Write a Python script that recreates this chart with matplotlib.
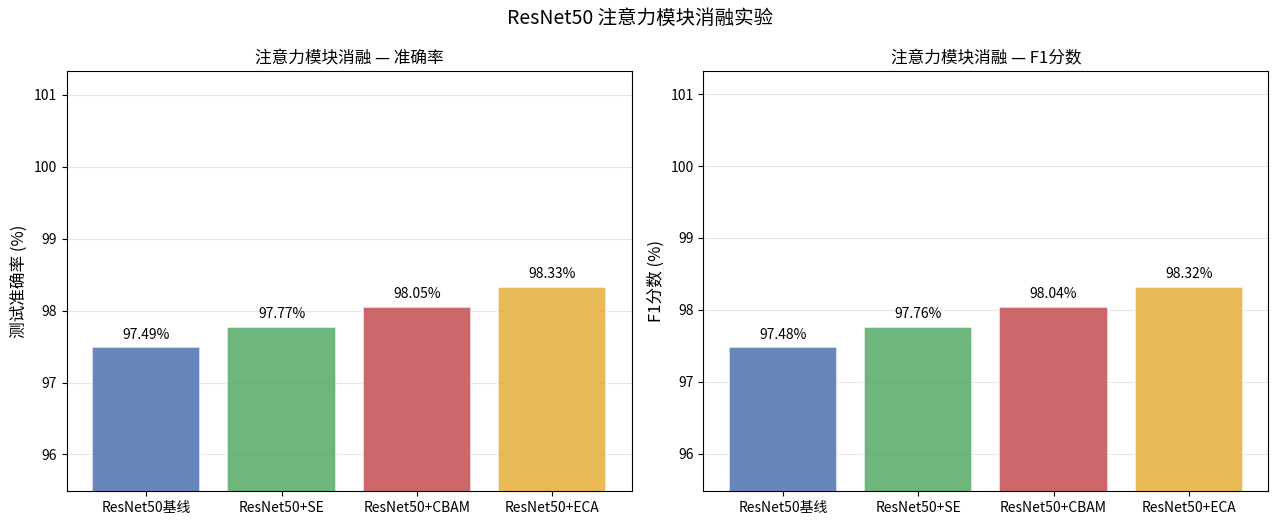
import matplotlib
matplotlib.use("Agg")
import matplotlib.pyplot as plt
import numpy as np

plt.rcParams['font.family'] = ['Noto Sans CJK SC', 'DejaVu Sans']
plt.rcParams['axes.unicode_minus'] = False

models = ["ResNet50基线", "ResNet50+SE", "ResNet50+CBAM", "ResNet50+ECA"]
accuracy = [97.49, 97.77, 98.05, 98.33]
f1_scores = [97.48, 97.76, 98.04, 98.32]
colors = ["#4C72B0", "#55A868", "#C44E52", "#E5AE38"]

fig, axes = plt.subplots(1, 2, figsize=(12.8, 5.23), dpi=100)
panels = [
    (accuracy, "注意力模块消融 — 准确率", "测试准确率 (%)"),
    (f1_scores, "注意力模块消融 — F1分数", "F1分数 (%)"),
]
x = np.arange(len(models))
for ax, (vals, title, ylabel) in zip(axes, panels):
    bars = ax.bar(x, vals, width=0.8, color=colors, alpha=0.85,
                  edgecolor="white", linewidth=1.2)
    for b, v in zip(bars, vals):
        ax.text(b.get_x() + b.get_width() / 2, v + 0.08, f"{v:.2f}%",
                ha="center", va="bottom", fontsize=10)
    ax.set_xticks(x)
    ax.set_xticklabels(models, fontsize=10)
    ax.set_ylim(min(vals) - 2, max(vals) + 3)
    ax.set_title(title, fontsize=12)
    ax.set_ylabel(ylabel, fontsize=12)
    ax.grid(axis="y", alpha=0.3)
    ax.set_axisbelow(True)

fig.suptitle("ResNet50 注意力模块消融实验", fontsize=14, y=0.985)
fig.subplots_adjust(left=0.052, right=0.991, bottom=0.061, top=0.864, wspace=0.127)
plt.savefig("out.png", dpi=100)
